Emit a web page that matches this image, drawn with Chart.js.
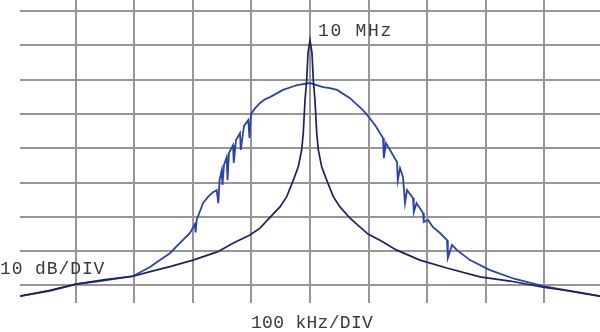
<!DOCTYPE html>
<html>
<head>
<meta charset="utf-8">
<script src="https://cdn.jsdelivr.net/npm/chart.js@4.4.1/dist/chart.umd.min.js"></script>
<style>
  body { margin: 0; background: #fff; }
  #wrap { position: relative; width: 600px; height: 332px; overflow: hidden; }
  .lbl { position: absolute; font-family: "Liberation Mono", "DejaVu Sans Mono", monospace;
         font-size: 18px; color: #3a3a3a; white-space: nowrap; line-height: 1; }
</style>
</head>
<body>
<div id="wrap">
  <canvas id="myChart" width="600" height="332"></canvas>
  <div class="lbl" id="lblCenter" style="left:318px; top:22px; letter-spacing:1.7px;">10 MHz</div>
  <div class="lbl" id="lblRef" style="left:0px; top:260px; letter-spacing:0.9px;">10 dB/DIV</div>
  <div class="lbl" id="lblSpan" style="left:251px; top:314px; letter-spacing:0.3px;">100 kHz/DIV</div>
</div>
<script>
// offset from 10 MHz centre, kHz  /  level, dB below top graticule line
const xTicks = [-400, -300, -200, -100, 0, 100, 200, 300, 400];
const yTicks = [0, -10, -20, -30, -40, -50, -60, -70, -80];

const carrierFreq = [-495.7, -444.4, -400, -350, -302.6, -270, -239.3, -200, -158.4, -130.9, -102.6, -85.5, -63.2, -51.3, -39.8, -28.5, -20, -14.2, -11.5, -8.5, -5.6, -3.4, 0,
  3.4, 5.6, 8.5, 11.5, 14.2, 20, 28.5, 39.8, 51.3, 68.4, 99.1, 119.7, 148.2, 188, 233.7, 290.6, 341.9, 398.3, 444.4, 495.7];
const carrierLevel = [-83.1, -81.4, -79.6, -78.3, -77.3, -75.8, -74.5, -72.6, -70.2, -67.6, -65.3, -63.3, -59.2, -57.1, -54.1, -49.3, -45.4, -40.5, -35.6, -25.9, -20.1, -12.2, -8.5,
  -12.2, -20.1, -25.9, -35.6, -40.5, -45.4, -49.3, -54.1, -57.1, -60.4, -65, -66.8, -69.7, -72.6, -74.9, -77.5, -78.7, -80.5, -81.6, -83.1];

const modFreq = [-495.7, -444.4, -400, -359, -302.6, -273.5, -256.4, -239.3, -222.2, -205.1, -197, -195.5, -193.7, -182.9, -174.4, -165.8, -159.5, -156.7, -154.6,
  -150.9, -149.6, -147, -142.4, -141, -138.5, -131.6, -130.3, -126.5, -119.7, -118.3, -112.8, -105.5, -103.4, -100.9, -94, -85.5, -76.9, -68.4, -46.2, -34.2, -22.2, 0,
  22.2, 34.2, 46.2, 68.4, 80.3, 90.6, 99.1, 111.1, 124.8, 126.2, 129.9, 136.8, 148.7, 150.1, 153.8, 159, 162.4, 165.8, 176.1, 177.4, 182.1, 193.2, 194.5,
  201.7, 210.3, 222.2, 234.2, 235.6, 242.7, 251.3, 273.5, 307.7, 350.4, 398.3, 444.4, 495.7];
const modLevel = [-83.1, -81.6, -79.6, -78.7, -77.3, -74.6, -72.6, -70.6, -67.6, -64.7, -62.2, -64.5, -60.9, -56.0, -54.2, -52.8, -52.2, -56.0, -49.3,
  -46.4, -50.7, -44.9, -42.6, -49.3, -41.4, -39.1, -44.3, -37.6, -35.6, -40.5, -33.5, -31.8, -37.0, -30.0, -28.4, -26.8, -25.7, -25.1, -23.0, -22.3, -21.6, -21.0,
  -22.2, -22.5, -23.0, -25.4, -27.3, -28.9, -30.6, -33.2, -37.0, -42.9, -38.5, -40.5, -44.0, -49.3, -45.8, -48.4, -56.0, -52.2, -54.5, -58.6, -56.0, -58.9, -61.5,
  -60.9, -63.0, -64.7, -66.8, -72.0, -68.2, -69.7, -72.6, -75.5, -78.1, -80.2, -81.6, -83.1];

function puntos(xs, ys) {
  return xs.map((x, i) => ({ x: x, y: ys[i] }));
}

const ctx = document.getElementById('myChart');
const gridCol = '#969696';

new Chart(ctx, {
  type: 'line',
  data: {
    datasets: [{
      label: 'carrier',
      data: puntos(carrierFreq, carrierLevel),
      borderColor: '#1d2162',
      borderWidth: 1.7,
      pointRadius: 0,
      tension: 0
    }, {
      label: 'modulated',
      data: puntos(modFreq, modLevel),
      borderColor: '#2c43a6',
      borderWidth: 1.8,
      pointRadius: 0,
      tension: 0
    }]
  },
  options: {
    responsive: false,
    animation: false,
    devicePixelRatio: 1,
    layout: { padding: { left: 20, right: 0, top: 0, bottom: 29 } },
    plugins: { legend: { display: false }, tooltip: { enabled: false } },
    scales: {
      x: {
        type: 'linear', min: -495.7, max: 495.7,
        afterBuildTicks: s => { s.ticks = xTicks.map(v => ({ value: v })); },
        ticks: { display: false },
        border: { display: false },
        grid: { color: gridCol, lineWidth: 2, drawTicks: false }
      },
      y: {
        type: 'linear', min: -85.1, max: 3.2,
        afterBuildTicks: s => { s.ticks = yTicks.map(v => ({ value: v })); },
        ticks: { display: false },
        border: { display: false },
        grid: { color: gridCol, lineWidth: 2, drawTicks: false }
      }
    }
  }
});
</script>
</body>
</html>
